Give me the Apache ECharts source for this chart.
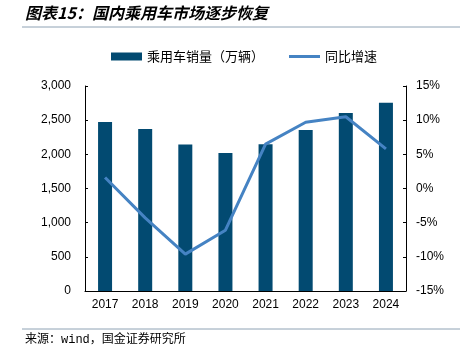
<!DOCTYPE html>
<html><head><meta charset="utf-8">
<script src="https://cdn.jsdelivr.net/npm/echarts@6/dist/echarts.min.js"></script>
<style>html,body{margin:0;padding:0;background:#fff}#c{width:460px;height:353px}</style>
</head><body><div id="c"></div>
<script>
const categories = ['2017','2018','2019','2020','2021','2022','2023','2024'];
const salesValues = [2472, 2371, 2144, 2018, 2148, 2356, 2606, 2756];
const yoyValues = [1.6, -4.3, -9.6, -6.1, 6.5, 9.7, 10.5, 5.8];
const leftTicks = [0, 500, 1000, 1500, 2000, 2500, 3000];
const rightTicks = [-15, -10, -5, 0, 5, 10, 15];
const seriesNames = ['乘用车销量（万辆）', '同比增速'];

const chart = echarts.init(document.getElementById('c'));
const axisFont = {color:'#000', fontSize:12, fontFamily:'Liberation Sans, Arial, sans-serif'};
const lineIcon = 'path://M0,0 L31,0 L31,0 Z M0,2.5 L31,2.5 L31,5.5 L0,5.5 Z M0,8 L31,8 L31,8 Z';
chart.setOption({
  animation:false,
  graphic:[
    {type:'text', left:25, top:5, style:{text:'图表15：国内乘用车市场逐步恢复', fill:'#000', font:'italic bold 16px "Noto Sans CJK SC"', letterSpacing:1}},
    {type:'line', shape:{x1:22,y1:27,x2:460,y2:27}, style:{stroke:'#8EA2B4', lineWidth:1}},
    {type:'line', shape:{x1:22,y1:329,x2:460,y2:329}, style:{stroke:'#8EA2B4', lineWidth:1}},
    {type:'text', left:25, top:334, style:{text:'来源：wind，国金证券研究所', fill:'#000', font:'12px "Liberation Mono", "Noto Sans CJK SC"'}}
  ],
  legend:{
    top:50, left:111, padding:0, itemGap:25, itemWidth:31, itemHeight:8,
    textStyle:{fontSize:13, color:'#000', fontFamily:'Noto Sans CJK SC'},
    data:[{name:seriesNames[0], icon:'rect'}, {name:seriesNames[1], icon:lineIcon, itemStyle:{color:'#4583C3'}}]
  },
  grid:{left:85, right:54, top:86, bottom:62},
  xAxis:{
    type:'category', data:categories,
    axisLine:{lineStyle:{color:'#000', width:1}},
    axisTick:{inside:true, length:3, alignWithLabel:false, lineStyle:{color:'#000'}},
    axisLabel:Object.assign({margin:8}, axisFont)
  },
  yAxis:[
    {type:'value', min:0, max:3000, interval:500,
     axisLine:{show:true, lineStyle:{color:'#000'}},
     axisTick:{show:true, inside:true, length:3, lineStyle:{color:'#000'}},
     splitLine:{show:false},
     axisLabel:Object.assign({margin:14, formatter:v=>v.toLocaleString('en-US')}, axisFont)},
    {type:'value', min:-15, max:15, interval:5,
     axisLine:{show:true, lineStyle:{color:'#000'}},
     axisTick:{show:true, inside:true, length:3, lineStyle:{color:'#000'}},
     splitLine:{show:false},
     axisLabel:Object.assign({margin:10, formatter:v=>v+'%'}, axisFont)}
  ],
  series:[
    {name:seriesNames[0], type:'bar', data:salesValues, barWidth:14, itemStyle:{color:'#024A71'}},
    {name:seriesNames[1], type:'line', yAxisIndex:1, data:yoyValues, symbol:'none', lineStyle:{color:'#4583C3', width:3}, itemStyle:{color:'#4583C3'}}
  ]
});
</script></body></html>
